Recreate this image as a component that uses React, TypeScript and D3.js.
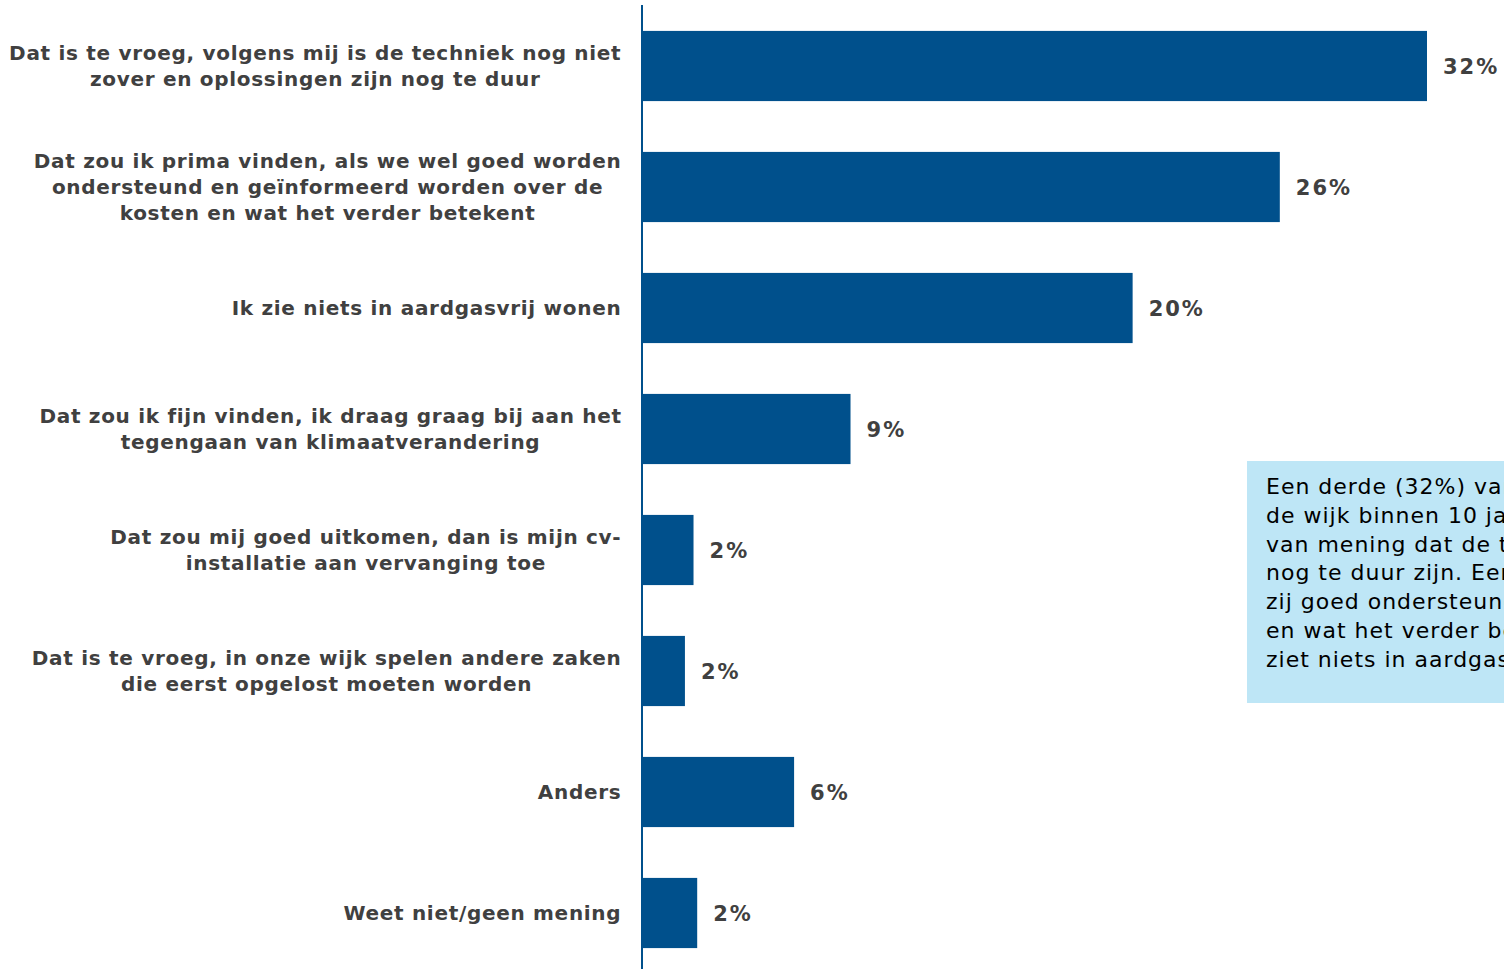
import React from "react";
import * as d3 from "d3";

const categories: string[][] = [
  ["Dat is te vroeg, volgens mij is de techniek nog niet", "zover en oplossingen zijn nog te duur"],
  ["Dat zou ik prima vinden, als we wel goed worden", "ondersteund en geïnformeerd worden over de", "kosten en wat het verder betekent"],
  ["Ik zie niets in aardgasvrij wonen"],
  ["Dat zou ik fijn vinden, ik draag graag bij aan het", "tegengaan van klimaatverandering"],
  ["Dat zou mij goed uitkomen, dan is mijn cv-", "installatie aan vervanging toe"],
  ["Dat is te vroeg, in onze wijk spelen andere zaken", "die eerst opgelost moeten worden"],
  ["Anders"],
  ["Weet niet/geen mening"],
];
const values: number[] = [32.0, 26.0, 20.0, 8.5, 2.1, 1.75, 6.2, 2.25];
const valueLabels: string[] = ["32%", "26%", "20%", "9%", "2%", "2%", "6%", "2%"];
const noteLines: string[] = [
  "Een derde (32%) van de bewoners vindt het aardgasvrij maken van",
  "de wijk binnen 10 jaar te vroeg. Zij zijn",
  "van mening dat de techniek nog niet zover is en oplossingen",
  "nog te duur zijn. Een kwart (26%) vindt het prima, als",
  "zij goed ondersteund en geïnformeerd worden over de kosten",
  "en wat het verder betekent. Een vijfde (20%)",
  "ziet niets in aardgasvrij wonen.",
];

const W = 1504;
const H = 969;
const AXIS_X = 642;
const LABEL_RIGHT = 621;
const FONT = "Verdana, 'DejaVu Sans', sans-serif";
const LABEL_SIZE = 20;
const LABEL_LS = 0.7;

let ctx: CanvasRenderingContext2D | null = null;
function measure(t: string): number {
  if (!ctx) ctx = document.createElement("canvas").getContext("2d");
  if (!ctx) return t.length * 12;
  ctx.font = `bold ${LABEL_SIZE}px 'DejaVu Sans'`;
  return ctx.measureText(t).width + (t.length - 1) * LABEL_LS;
}

export default function App() {
  const idx = categories.map((_, i) => String(i));
  const y = d3.scaleBand<string>().domain(idx).range([5.5, 973.5]).paddingInner(0.42).paddingOuter(0.21);
  const x = d3.scaleLinear().domain([0, 32]).range([AXIS_X, 1427]);
  const lineH = 26;

  return (
    <svg width={W} height={H} style={{ position: "absolute", left: 0, top: 0 }} fontFamily={FONT}>
      <rect x={0} y={0} width={W} height={H} fill="#ffffff" />
      {categories.map((lines, i) => {
        const cy = (y(String(i)) as number) + y.bandwidth() / 2;
        const startY = cy - ((lines.length - 1) * lineH) / 2;
        const maxW = d3.max(lines, (l) => measure(l)) as number;
        const cx = LABEL_RIGHT - maxW / 2;
        return (
          <g key={i}>
            <rect
              x={x(0)}
              y={y(String(i))}
              width={x(values[i]) - x(0)}
              height={y.bandwidth()}
              fill="#00508C"
            />
            <text
              x={x(values[i]) + 16}
              y={cy}
              dy="0.36em"
              fontSize={21}
              letterSpacing={2}
              fontWeight="bold"
              fill="#404040"
            >
              {valueLabels[i]}
            </text>
            <text fontSize={LABEL_SIZE} letterSpacing={LABEL_LS} fontWeight="bold" fill="#404040" textAnchor="middle">
              {lines.map((l, j) => (
                <tspan key={j} x={cx} y={startY + j * lineH} dy="0.36em">
                  {l}
                </tspan>
              ))}
            </text>
          </g>
        );
      })}
      <line x1={AXIS_X} x2={AXIS_X} y1={5} y2={H} stroke="#00508C" strokeWidth={2} />
      <rect x={1247} y={461} width={300} height={242} fill="#BEE6F6" />
      <text fontSize={22} letterSpacing={1} fill="#000000">
        {noteLines.map((l, j) => (
          <tspan key={j} x={1266} y={486 + j * 28.8} dy="0.36em">
            {l}
          </tspan>
        ))}
      </text>
    </svg>
  );
}
